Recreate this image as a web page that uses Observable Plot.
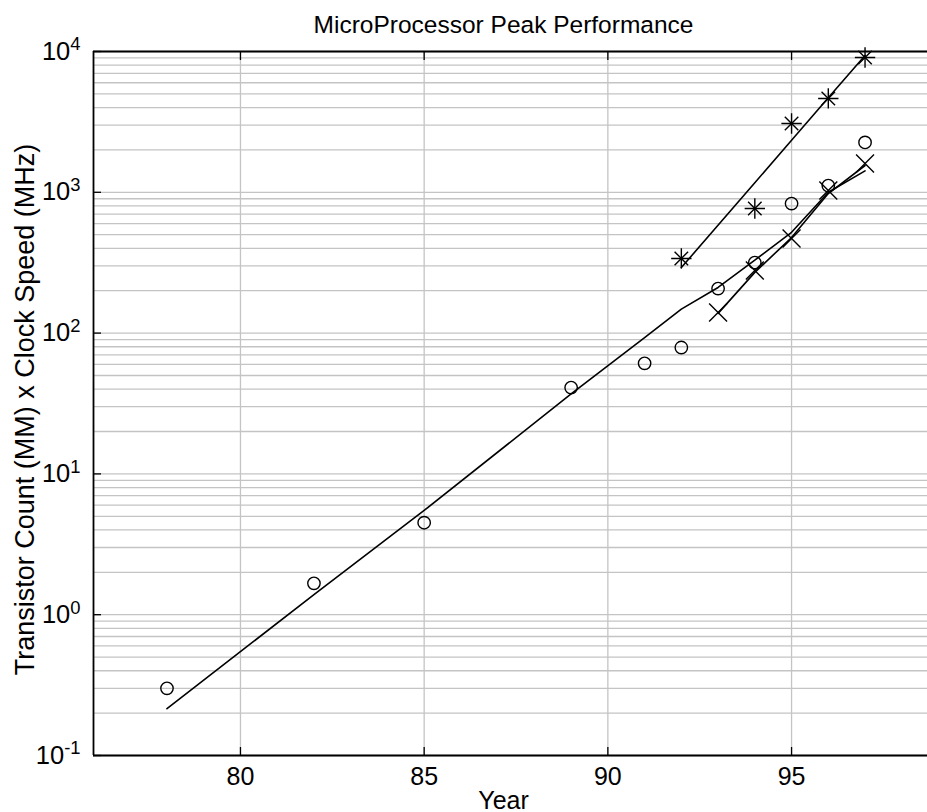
<!DOCTYPE html>
<html>
<head>
<meta charset="utf-8">
<script src="https://cdn.jsdelivr.net/npm/d3@7"></script>
<script src="https://cdn.jsdelivr.net/npm/@observablehq/plot@0.6"></script>
<style>
  html, body { margin: 0; padding: 0; background: #fff; }
  #chart svg { display: block; }
</style>
</head>
<body>
<div id="chart"></div>
<script>
// ---- data ----
const titleText = "MicroProcessor Peak Performance";
const xLabelText = "Year";
const yLabelText = "Transistor Count (MM) x Clock Speed (MHz)";

const xTickValues = [80, 85, 90, 95];
const yTickValues = [0.1, 1, 10, 100, 1000, 10000];
const xDomain = [76, 98.7];
const yDomain = [0.1, 10000];

// circles (o)
const circleYears = [78, 82, 85, 89, 91, 92, 93, 94, 95, 96, 97];
const circleValues = [0.30, 1.67, 4.5, 41, 61, 79, 207, 317, 832, 1117, 2260];
// stars (*)
const starYears = [92, 94, 95, 96, 97];
const starValues = [339, 767, 3080, 4640, 9060];
// crosses (x)
const crossYears = [93, 94, 95, 96, 97];
const crossValues = [140, 278, 470, 1030, 1600];

// fitted lines
const circleFitYears = [78, 82, 85, 89, 91, 92, 93, 94, 95, 96, 97];
const circleFitValues = [0.215, 1.39, 5.5, 37, 93, 148, 211, 330, 520, 1000, 1420];
const starFitYears = [92, 94, 95, 96, 97];
const starFitValues = [292, 1170, 2340, 4690, 9370];
const crossFitYears = [93, 94, 95, 96, 97];
const crossFitValues = [138, 270, 477, 980, 1550];

// ---- build tables ----
const zip = (xs, ys) => xs.map((x, i) => ({x, y: ys[i]}));
const circles = zip(circleYears, circleValues);
const stars = zip(starYears, starValues);
const crosses = zip(crossYears, crossValues);
const circleFit = zip(circleFitYears, circleFitValues);
const starFit = zip(starFitYears, starFitValues);
const crossFit = zip(crossFitYears, crossFitValues);

const font = "'Liberation Sans', Arial, Helvetica, sans-serif";
const gridColor = "#c4c4c4";
const tickOnly = {tickFormat: null, fill: "none", label: null, strokeWidth: 1.3, tickSize: -8};

const chart = Plot.plot({
  width: 927,
  height: 812,
  marginLeft: 93,
  marginRight: 0,
  marginTop: 51,
  marginBottom: 57,
  style: {fontFamily: font, fontSize: "25px", color: "#000", background: "#fff"},
  x: {domain: xDomain, label: null},
  y: {type: "log", domain: yDomain, label: null},
  marks: [
    // grid
    Plot.gridY({stroke: gridColor, strokeOpacity: 1, strokeWidth: 1.3}),
    Plot.gridX(xTickValues, {stroke: gridColor, strokeOpacity: 1, strokeWidth: 1.3}),
    // box lines
    Plot.ruleY(yDomain, {stroke: "#000", strokeWidth: 1.8}),
    Plot.ruleX(xDomain.slice(0, 1), {stroke: "#000", strokeWidth: 1.8}),
    // inward ticks (no labels)
    Plot.axisX(xTickValues, {anchor: "bottom", ...tickOnly}),
    Plot.axisX(xTickValues, {anchor: "top", ...tickOnly}),
    Plot.axisY(yTickValues, {anchor: "left", ...tickOnly}),
    // tick labels
    Plot.axisX(xTickValues, {anchor: "bottom", tickSize: 0, tickPadding: 12, fontSize: 25, label: null}),
    Plot.axisY(yTickValues, {anchor: "left", tickSize: 0, tickPadding: 13, fontSize: 25.5, label: null,
      tickFormat: d => "10^" + Math.round(Math.log10(d))}),
    // fit lines
    Plot.line(circleFit, {x: "x", y: "y", stroke: "#000", strokeWidth: 1.6}),
    Plot.line(starFit, {x: "x", y: "y", stroke: "#000", strokeWidth: 1.6}),
    Plot.line(crossFit, {x: "x", y: "y", stroke: "#000", strokeWidth: 1.6}),
    // markers
    Plot.dot(circles, {x: "x", y: "y", r: 6.2, stroke: "#000", strokeWidth: 1.4, fill: "none"}),
    Plot.dot(stars, {x: "x", y: "y", symbol: "plus", r: 6.6, stroke: "#000", strokeWidth: 1.4}),
    Plot.dot(stars, {x: "x", y: "y", symbol: "times", r: 6.2, stroke: "#000", strokeWidth: 1.4}),
    Plot.dot(crosses, {x: "x", y: "y", symbol: "times", r: 8.2, stroke: "#000", strokeWidth: 1.4}),
    // titles
    Plot.text([titleText], {frameAnchor: "top", textAnchor: "middle", dx: -7, dy: -19, lineAnchor: "bottom", fontSize: 24.5}),
    Plot.text([xLabelText], {frameAnchor: "bottom", textAnchor: "middle", dx: -7, dy: 53, lineAnchor: "bottom", fontSize: 25}),
    Plot.text([yLabelText], {frameAnchor: "left", textAnchor: "middle", dx: -60, dy: 6, rotate: -90, lineAnchor: "bottom", fontSize: 27})
  ]
});

// turn "10^k" labels into real superscripts
d3.select(chart).selectAll('g[aria-label="y-axis tick label"] text').each(function() {
  const t = this.textContent;
  const m = t.match(/^10\^(-?\d+)$/);
  if (!m) return;
  const sel = d3.select(this);
  sel.text(null);
  sel.append("tspan").text("10");
  sel.append("tspan").attr("dy", "-0.5em").attr("font-size", "0.72em").text(m[1]);
});

document.getElementById("chart").appendChild(chart);
</script>
</body>
</html>
